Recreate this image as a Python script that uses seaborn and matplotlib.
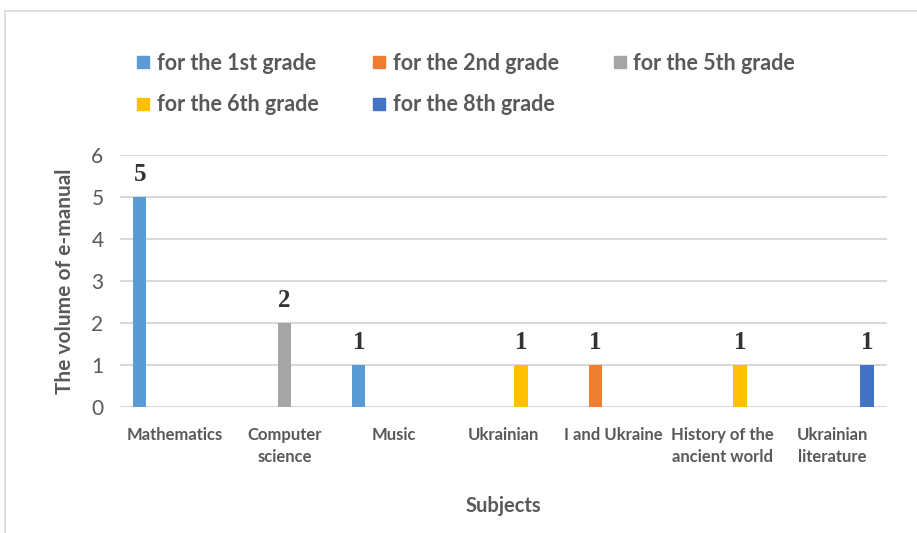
import pandas as pd
import numpy as np
import matplotlib
matplotlib.use('Agg')
import matplotlib.pyplot as plt
import seaborn as sns
from matplotlib.patches import Rectangle

# Data
subjects = ['Mathematics', 'Computer\nscience', 'Music', 'Ukrainian',
            'I and Ukraine', 'History of the\nancient world', 'Ukrainian\nliterature']
grades = ['for the 1st grade', 'for the 2nd grade', 'for the 5th grade',
          'for the 6th grade', 'for the 8th grade']
subject_grade = ['for the 1st grade', 'for the 5th grade', 'for the 1st grade',
                 'for the 6th grade', 'for the 2nd grade', 'for the 6th grade',
                 'for the 8th grade']
volumes = [5, 2, 1, 1, 1, 1, 1]
colors = ['#5B9BD5', '#ED7D31', '#A5A5A5', '#FFC000', '#4472C4']

# Long-form table with zeros so every group keeps its five slots
rows = []
for s, g, v in zip(subjects, subject_grade, volumes):
    for gr in grades:
        rows.append({'subject': s, 'grade': gr, 'volume': v if gr == g else 0})
df = pd.DataFrame(rows)

sns.set_theme(style='white')
text_col = '#595959'
sans = ['Lato', 'DejaVu Sans']

fig = plt.figure(figsize=(9.17, 5.33), dpi=100)
ax = fig.add_axes([0.131, 0.236, 0.836, 0.473])

sns.barplot(data=df, x='subject', y='volume', hue='grade', order=subjects,
            hue_order=grades, palette=colors, width=0.8, gap=0.25,
            linewidth=0, saturation=1, legend=False, ax=ax)

ax.set_ylim(0, 6)
ax.set_yticks(range(0, 7))
ax.yaxis.grid(True, color='#d9d9d9', linewidth=1.5)
ax.set_axisbelow(True)
for sp in ax.spines.values():
    sp.set_visible(False)
ax.tick_params(axis='both', length=0)
ax.tick_params(axis='y', labelsize=15, labelcolor=text_col, pad=12)
ax.tick_params(axis='x', labelcolor=text_col, pad=14)
for t in ax.get_xticklabels():
    t.set_fontfamily(sans)
    t.set_fontweight('bold')
    t.set_fontsize(12)
    t.set_linespacing(1.5)
for t in ax.get_yticklabels():
    t.set_fontfamily(sans)

ax.set_xlabel('Subjects', fontsize=14.5, fontweight='bold', color=text_col,
              family=sans, labelpad=22)
ax.set_ylabel('The volume of e-manual', fontsize=15, fontweight='bold',
              color=text_col, family=sans, labelpad=12)

# Value labels above non-zero bars
for cont in ax.containers:
    labels = ['%d' % b.get_height() if b.get_height() > 0 else '' for b in cont]
    ax.bar_label(cont, labels=labels, padding=8, fontsize=18, fontweight='bold',
                 color='#333333', family=['Liberation Serif', 'DejaVu Serif'])

# Legend on top, filled row by row (matplotlib fills columns first)
handles = [plt.Line2D([], [], marker='s', linestyle='', markersize=9,
                      color=c) for c in colors]
order = [0, 3, 1, 4, 2]
leg = fig.legend([handles[i] for i in order], [grades[i] for i in order],
                 loc='upper left', ncol=3,
                 bbox_to_anchor=(0.128, 0.937), frameon=False,
                 handlelength=0.6, handletextpad=0.35, columnspacing=2.5,
                 labelspacing=0.95,
                 prop={'family': sans, 'weight': 'bold', 'size': 15.5})
for t in leg.get_texts():
    t.set_color(text_col)

# Chart border
fig.patches.append(Rectangle((5 / 917, -0.05), 1.1, 1 - 11 / 533 + 0.05,
                             transform=fig.transFigure, fill=False,
                             edgecolor='#d9d9d9', linewidth=1.2))

fig.savefig('out.png', dpi=100)
